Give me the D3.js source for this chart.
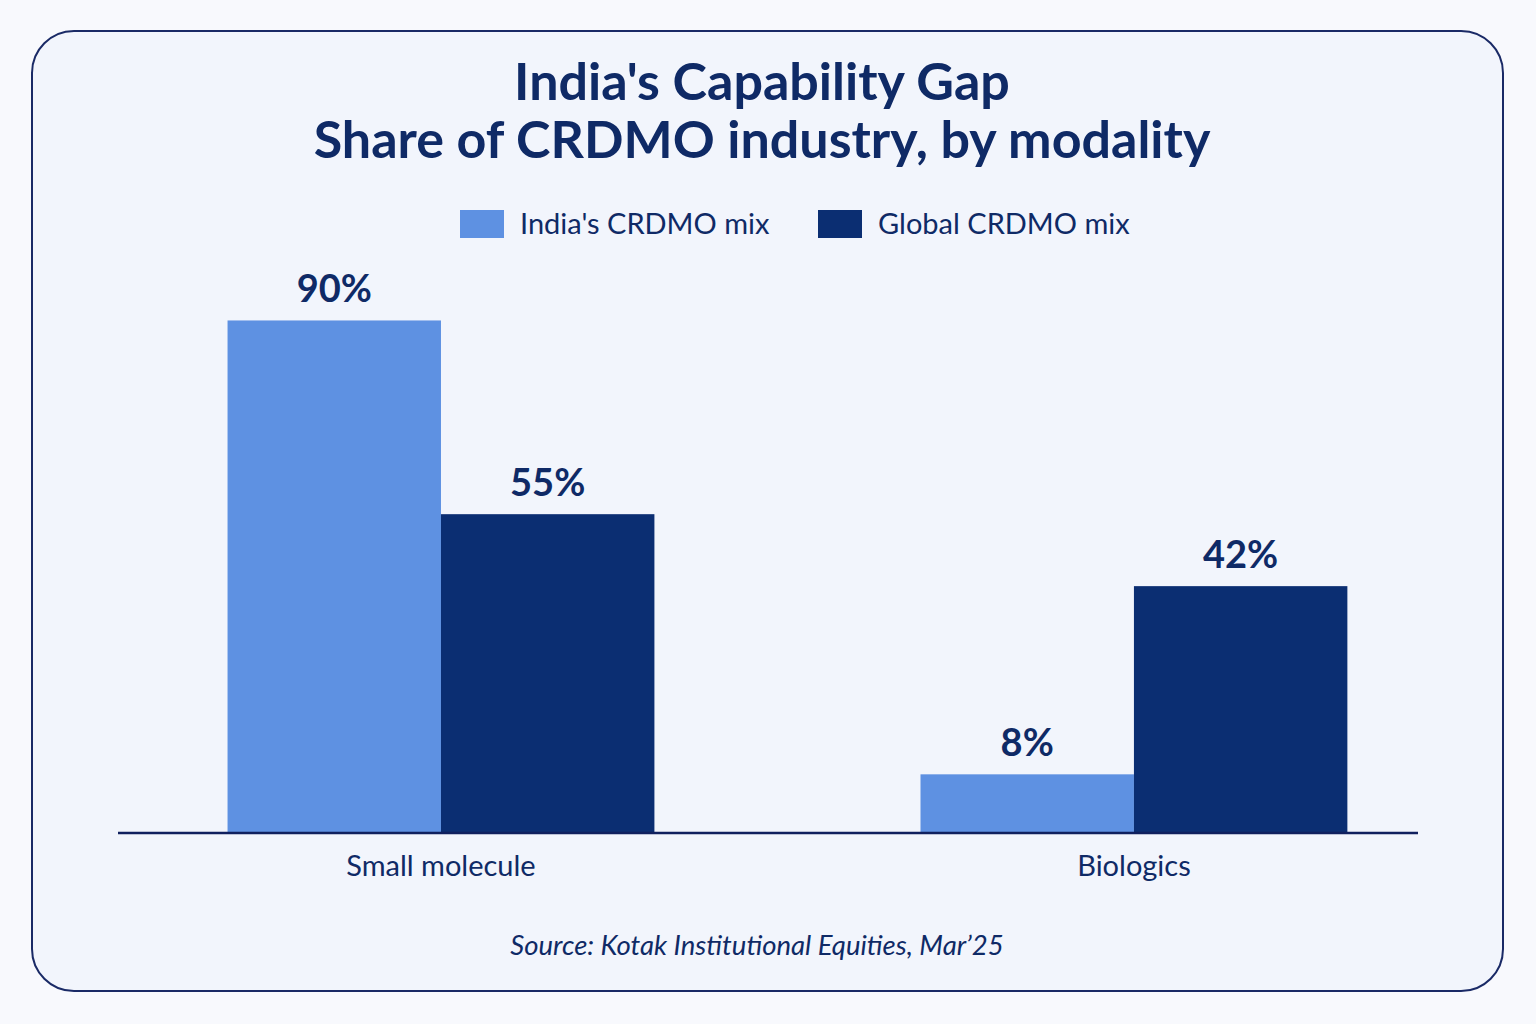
<!DOCTYPE html>
<html><head><meta charset="utf-8">
<script src="https://cdn.jsdelivr.net/npm/d3@7/dist/d3.min.js"></script>
<style>html,body{margin:0;padding:0;background:#f8f9fd;}svg{display:block;}</style>
</head><body>
<svg id="chart" width="1536" height="1024"></svg>
<script>
const titleLines = ["India's Capability Gap", "Share of CRDMO industry, by modality"];
const categories = ["Small molecule", "Biologics"];
const seriesNames = ["India's CRDMO mix", "Global CRDMO mix"];
const indiaValues = [90, 8];
const globalValues = [55, 42];
const sourceText = "Source: Kotak Institutional Equities, Mar\u201925";

const colors = ["#5e91e2", "#0b2e72"];
const navy = "#0f2a66";
const font = "Lato, 'Open Sans', sans-serif";

const svg = d3.select("#chart");

// card
svg.append("rect").attr("x", 32).attr("y", 31).attr("width", 1471).attr("height", 960)
  .attr("rx", 42).attr("fill", "#f2f5fc").attr("stroke", "#1a2a66").attr("stroke-width", 2);

// titles
svg.selectAll("text.title").data(titleLines).join("text").attr("class", "title")
  .attr("x", 762).attr("y", (d, i) => 100 + i * 58)
  .attr("text-anchor", "middle").attr("font-family", font).attr("font-weight", 700)
  .attr("font-size", 52).attr("fill", navy).text(d => d);

// legend
const legendX = [460, 818];
const lg = svg.selectAll("g.legend").data(seriesNames).join("g").attr("class", "legend")
  .attr("transform", (d, i) => `translate(${legendX[i]},210)`);
lg.append("rect").attr("width", 44).attr("height", 28).attr("fill", (d, i) => colors[i]);
lg.append("text").attr("x", 60).attr("y", 24).attr("font-family", font).attr("font-size", 29)
  .attr("fill", navy).text(d => d);

// scales
const baseline = 833, axisLeft = 118, axisRight = 1418;
const y = d3.scaleLinear().domain([-2.6, 100]).range([baseline, baseline - 102.6 * 5.535]);
const x0 = d3.scaleBand().domain(categories).range([axisLeft, axisRight])
  .paddingInner(0.384).paddingOuter(0.13).align(0.608);
const x1 = d3.scaleBand().domain(seriesNames).range([0, x0.bandwidth()]);

const data = categories.map((c, i) => ({cat: c, vals: [
  {s: seriesNames[0], v: indiaValues[i], ci: 0},
  {s: seriesNames[1], v: globalValues[i], ci: 1}]}));

const groups = svg.selectAll("g.grp").data(data).join("g").attr("class", "grp")
  .attr("transform", d => `translate(${x0(d.cat)},0)`);
groups.selectAll("rect").data(d => d.vals).join("rect")
  .attr("x", d => x1(d.s)).attr("width", x1.bandwidth())
  .attr("y", d => y(d.v)).attr("height", d => baseline - y(d.v))
  .attr("fill", d => colors[d.ci]);
groups.selectAll("text").data(d => d.vals).join("text")
  .attr("x", d => x1(d.s) + x1.bandwidth() / 2).attr("y", d => y(d.v) - 18)
  .attr("text-anchor", "middle").attr("font-family", font).attr("font-weight", 700)
  .attr("font-size", 38).attr("fill", navy).text(d => d.v + "%");

// axis
const axis = svg.append("g").attr("transform", `translate(0,${baseline})`)
  .call(d3.axisBottom(x0).tickSize(0).tickPadding(22).tickSizeOuter(0));
axis.select(".domain").remove();
axis.append("line").attr("x1", axisLeft).attr("x2", axisRight).attr("stroke", "#10205e").attr("stroke-width", 2.5);
axis.selectAll(".tick text").attr("font-family", font).attr("font-size", 29).attr("fill", navy);

// source
svg.append("text").attr("x", 757).attr("y", 955).attr("text-anchor", "middle")
  .attr("font-family", font).attr("font-style", "italic").attr("font-size", 27.5)
  .attr("fill", navy).text(sourceText);
</script>
</body></html>
